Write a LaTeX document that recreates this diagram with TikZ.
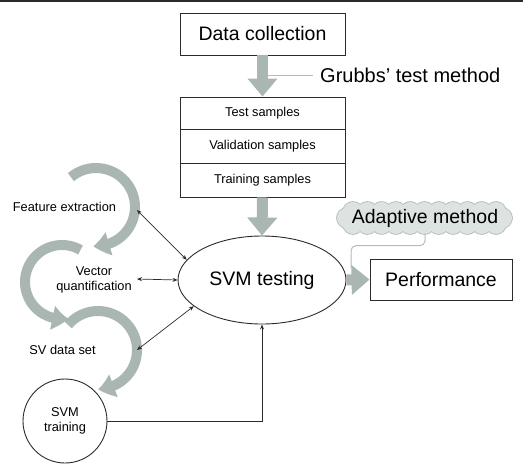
\documentclass[tikz,border=0pt]{standalone}
\usepackage{fontspec}
\setmainfont{Liberation Sans}
\usetikzlibrary{arrows.meta,bending,shapes.geometric}
\definecolor{garrow}{HTML}{A9B6B2}
\definecolor{cloudfill}{HTML}{DDE3E1}
\definecolor{cloudline}{HTML}{B3BCB9}
\definecolor{ink}{HTML}{2B2B2B}
\begin{document}
\begin{tikzpicture}[x=1pt,y=-1pt,
  box/.style={draw=ink, line width=0.9pt, inner sep=0pt, text=black},
  big/.style={font=\fontsize{19.5}{22}\selectfont},
  small/.style={font=\fontsize{12.8}{15}\selectfont},
  fat/.style={draw=garrow, line width=11pt, -{Triangle[length=18pt,width=29pt]}},
  curl/.style={draw=garrow, line width=10pt, -{Triangle[length=16pt,width=23pt,bend]}},
  thinarrow/.style={draw=ink, line width=0.7pt, {Stealth[length=5pt,width=4pt]}-{Stealth[length=5pt,width=4pt]}},
]
\useasboundingbox (0,0) rectangle (523,472);
\draw[ink, line width=1.5pt] (0,0.75) -- (523,0.75);

% cloud outline: union of puffs, stroked then filled
\foreach \i in {0,...,10} {
  \draw[cloudline, line width=1.7pt] (353+\i*14.3,212) circle[radius=10];
  \draw[cloudline, line width=1.7pt] (353+\i*14.3,224) circle[radius=10];
}
\draw[cloudline, line width=1.7pt] (347,218) circle[radius=10];
\draw[cloudline, line width=1.7pt] (502,218) circle[radius=10];
\foreach \i in {0,...,10} {
  \fill[cloudfill] (353+\i*14.3,212) circle[radius=10];
  \fill[cloudfill] (353+\i*14.3,224) circle[radius=10];
}
\fill[cloudfill] (347,218) circle[radius=10];
\fill[cloudfill] (502,218) circle[radius=10];

% main column
\node[box,big,minimum width=165pt,minimum height=42pt] (dc) at (262.5,34) {Data collection};
\node[box,small,minimum width=165pt,minimum height=32pt] (ts) at (262.5,113) {Test samples};
\node[box,small,minimum width=165pt,minimum height=34pt] (vs) at (262.5,146) {Validation samples};
\node[box,small,minimum width=165pt,minimum height=34pt] (tr) at (262.5,180) {Training samples};
\node[draw=ink,line width=0.9pt,ellipse,minimum width=168pt,minimum height=88pt,inner sep=0pt,big] (svm) at (262,280) {SVM testing};
\node[box,big,minimum width=142pt,minimum height=41pt] (perf) at (441,279.5) {Performance};
\node[inner sep=0pt, minimum width=175pt, minimum height=31pt, big] (adapt) at (425,218) {Adaptive method};
\node[anchor=west, inner sep=0pt, font=\fontsize{20}{22}\selectfont] (gr) at (320,75) {Grubbs’ test method};

% left labels
\node[small] (fe) at (64.5,207) {Feature extraction};
\node[small, align=center] (vq) at (94,279.5) {Vector\\quantification};
\node[small] (sv) at (62.5,350) {SV data set};
\node[draw=ink, line width=0.9pt, circle, minimum size=84pt, inner sep=0pt, small, align=center] (train) at (65,421) {SVM\\training};

% light connectors
\coordinate (gl) at (268,75);
\draw[cloudline, line width=1pt] (gl) -- ([xshift=-7pt]gr.west);
\coordinate (aj) at (351,268);
\draw[cloudline, line width=1pt, rounded corners=5pt] (adapt.south) -- ++(0,12) -| (aj);

% grey arrows
\draw[fat] (dc.south) -- (ts.north);
\draw[fat] (tr.south) -- (svm.north);
\draw[fat] (svm.east) -- (perf.west);

% curls
\draw[curl] (96,207) ++(230:39) arc[start angle=230, end angle=454, radius=39];
\draw[curl] (62,282) ++(300:37) arc[start angle=300, end angle=80, radius=37];
\draw[curl] (98,350) ++(220:39) arc[start angle=220, end angle=450, radius=39];

% thin arrows
\coordinate (a1) at (137,210);
\coordinate (a2) at (137,279);
\coordinate (a3) at (137,350);
\draw[thinarrow] (a1) -- (svm.165);
\draw[thinarrow] (a2) -- (svm.west);
\draw[thinarrow] (a3) -- (svm.201);
\draw[ink, line width=0.8pt, -{Stealth[length=5pt,width=4pt]}] (train.east) -| (svm.south);
\end{tikzpicture}
\end{document}
